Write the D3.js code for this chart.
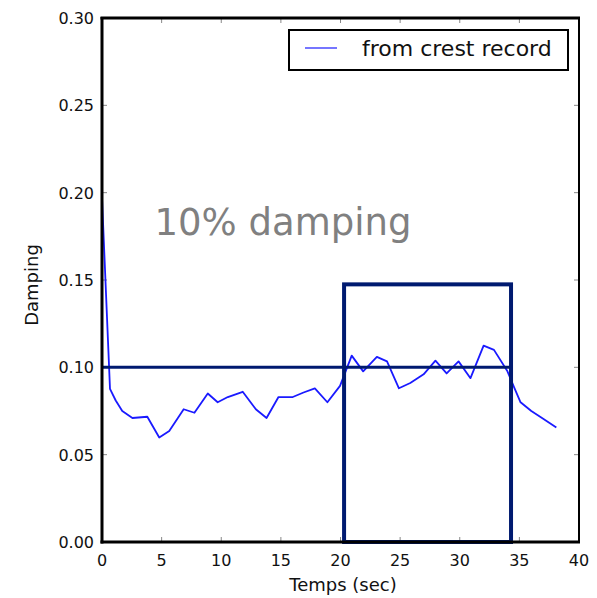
<!DOCTYPE html>
<html><head><meta charset="utf-8">
<script src="https://cdn.jsdelivr.net/npm/d3@7"></script>
<style>body{margin:0;background:#fff}svg{display:block}</style>
</head><body>
<svg id="c" width="597" height="598"></svg>
<script>
const timeSec = [0, 0.67, 1.15, 1.7, 2.55, 3.8, 4.8, 5.64, 6.85, 7.75, 8.87, 9.7, 10.55, 11.8, 12.9, 13.8, 14.8, 16.0, 16.9, 17.85, 18.9, 19.96, 20.94, 21.9, 23.05, 23.9, 24.9, 25.85, 26.97, 27.96, 28.9, 29.9, 30.9, 32.0, 32.87, 34.0, 34.56, 35.1, 36.0, 36.9, 38.1];
const damping = [0.197, 0.0877, 0.081, 0.075, 0.071, 0.0717, 0.0598, 0.0636, 0.076, 0.074, 0.085, 0.080, 0.083, 0.086, 0.076, 0.071, 0.083, 0.083, 0.0856, 0.088, 0.080, 0.0894, 0.1067, 0.0977, 0.106, 0.1034, 0.088, 0.091, 0.096, 0.1038, 0.0965, 0.1034, 0.0938, 0.1124, 0.110, 0.0977, 0.0885, 0.080, 0.075, 0.071, 0.0655];
const xTicks = [0, 5, 10, 15, 20, 25, 30, 35, 40];
const yTicks = [0.00, 0.05, 0.10, 0.15, 0.20, 0.25, 0.30];
const refLevel = 0.10;
const refLineEnd = 34.3;
const windowBox = {x0: 20.3, x1: 34.3, y0: 0, y1: 0.1475};
const annotation = "10% damping";
const legendLabel = "from crest record";

const svg = d3.select("#c");
const L = 102, R = 579, T = 18, B = 542;
const x = d3.scaleLinear().domain([0, 40]).range([L, R]);
const y = d3.scaleLinear().domain([0, 0.30]).range([B, T]);
const font = "DejaVu Sans, sans-serif";

const tickLen = 5;
const g = svg.append("g");
xTicks.forEach(t => {
  g.append("line").attr("x1", x(t)).attr("x2", x(t)).attr("y1", B).attr("y2", B - tickLen).attr("stroke", "#888").attr("stroke-width", 1);
  g.append("line").attr("x1", x(t)).attr("x2", x(t)).attr("y1", T).attr("y2", T + tickLen).attr("stroke", "#888").attr("stroke-width", 1);
});
yTicks.forEach(t => {
  g.append("line").attr("x1", L).attr("x2", L + tickLen).attr("y1", y(t)).attr("y2", y(t)).attr("stroke", "#888").attr("stroke-width", 1);
  g.append("line").attr("x1", R).attr("x2", R - tickLen).attr("y1", y(t)).attr("y2", y(t)).attr("stroke", "#888").attr("stroke-width", 1);
});

const line = d3.line().x((d, i) => x(timeSec[i])).y(d => y(d));
svg.append("path").datum(damping).attr("d", line).attr("fill", "none").attr("stroke", "#1a1aff").attr("stroke-width", 1.8).attr("stroke-linejoin", "round");

svg.append("line").attr("x1", x(0)).attr("x2", x(refLineEnd)).attr("y1", y(refLevel)).attr("y2", y(refLevel)).attr("stroke", "#001a70").attr("stroke-width", 3);

svg.append("rect").attr("x", x(windowBox.x0)).attr("y", y(windowBox.y1))
  .attr("width", x(windowBox.x1) - x(windowBox.x0)).attr("height", y(windowBox.y0) - y(windowBox.y1))
  .attr("fill", "none").attr("stroke", "#001a70").attr("stroke-width", 4);

svg.append("line").attr("x1", L).attr("x2", L).attr("y1", T - 1).attr("y2", B + 1.5).attr("stroke", "#000").attr("stroke-width", 3);
svg.append("line").attr("x1", L - 1.5).attr("x2", R + 1).attr("y1", B).attr("y2", B).attr("stroke", "#000").attr("stroke-width", 3);
svg.append("line").attr("x1", L - 1.5).attr("x2", R + 1).attr("y1", T).attr("y2", T).attr("stroke", "#000").attr("stroke-width", 3);
svg.append("line").attr("x1", R).attr("x2", R).attr("y1", T).attr("y2", B).attr("stroke", "#000").attr("stroke-width", 2);

xTicks.forEach(t => {
  svg.append("text").attr("x", x(t)).attr("y", B + 24).attr("text-anchor", "middle")
    .attr("font-family", font).attr("font-size", 16).attr("fill", "#111").text(t);
});
yTicks.forEach(t => {
  svg.append("text").attr("x", L - 8).attr("y", y(t) + 6).attr("text-anchor", "end")
    .attr("font-family", font).attr("font-size", 16).attr("fill", "#111").text(t.toFixed(2));
});

svg.append("text").attr("x", 343).attr("y", 591).attr("text-anchor", "middle")
  .attr("font-family", font).attr("font-size", 18).attr("fill", "#111").text("Temps (sec)");
svg.append("text").attr("transform", "translate(38,285) rotate(-90)").attr("text-anchor", "middle")
  .attr("font-family", font).attr("font-size", 18).attr("fill", "#111").text("Damping");

svg.append("text").attr("x", x(4.4)).attr("y", 235).attr("font-family", font).attr("font-size", 37).attr("fill", "#808080").text(annotation);

svg.append("rect").attr("x", 289).attr("y", 30).attr("width", 279).attr("height", 40).attr("fill", "#fff").attr("stroke", "#000").attr("stroke-width", 2);
svg.append("line").attr("x1", 305).attr("x2", 337).attr("y1", 48).attr("y2", 48).attr("stroke", "#1a1aff").attr("stroke-width", 1.2);
svg.append("text").attr("x", 362).attr("y", 56).attr("font-family", font).attr("font-size", 22).attr("fill", "#111").text(legendLabel);
</script>
</body></html>
